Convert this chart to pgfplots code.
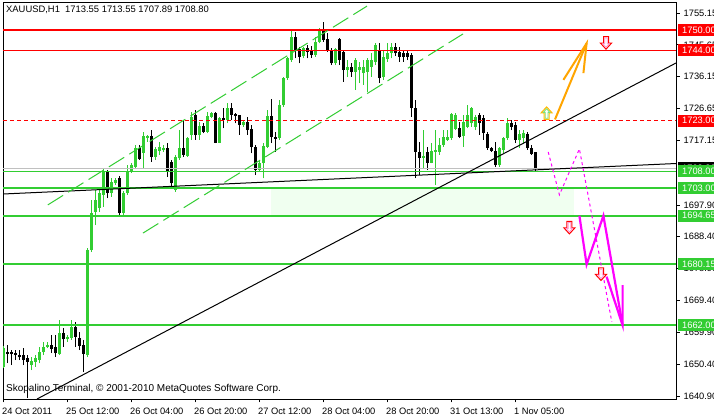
\documentclass[border=0pt]{standalone}
\usepackage{pgfplots}
\pgfplotsset{compat=1.18}
\usepackage{pgfplotstable}
\usepackage{fontspec}
\setmainfont{Liberation Sans}
\definecolor{mtgreen}{RGB}{50,205,50}
\definecolor{mtred}{RGB}{255,0,0}
\definecolor{mtorange}{RGB}{255,165,0}
\definecolor{mtgold}{RGB}{255,185,0}
\definecolor{mtmag}{RGB}{255,0,255}
\definecolor{mtpink}{RGB}{255,150,210}
\definecolor{mtlgreen}{RGB}{120,225,120}
\definecolor{mthoney}{RGB}{240,255,240}
\definecolor{mtgray}{RGB}{192,192,192}
\newcommand{\mtfont}{\fontsize{9.3bp}{11bp}\selectfont}

\pgfdeclareplotmark{mtup}{%
  \pgfpathmoveto{\pgfpoint{0bp}{6.5bp}}%
  \pgfpathlineto{\pgfpoint{5.5bp}{0.5bp}}%
  \pgfpathlineto{\pgfpoint{2.5bp}{0.5bp}}%
  \pgfpathlineto{\pgfpoint{2.5bp}{-6bp}}%
  \pgfpathlineto{\pgfpoint{-2.5bp}{-6bp}}%
  \pgfpathlineto{\pgfpoint{-2.5bp}{0.5bp}}%
  \pgfpathlineto{\pgfpoint{-5.5bp}{0.5bp}}%
  \pgfpathclose\pgfusepathqfillstroke}
\pgfdeclareplotmark{mtupin}{%
  \pgfpathmoveto{\pgfpoint{0bp}{4.6bp}}%
  \pgfpathlineto{\pgfpoint{3.4bp}{1bp}}%
  \pgfpathlineto{\pgfpoint{1.3bp}{1bp}}%
  \pgfpathlineto{\pgfpoint{1.3bp}{-4.8bp}}%
  \pgfpathlineto{\pgfpoint{-1.3bp}{-4.8bp}}%
  \pgfpathlineto{\pgfpoint{-1.3bp}{1bp}}%
  \pgfpathlineto{\pgfpoint{-3.4bp}{1bp}}%
  \pgfpathclose\pgfusepathqstroke}
\pgfdeclareplotmark{mtdown}{%
  \pgfpathmoveto{\pgfpoint{0bp}{-6.5bp}}%
  \pgfpathlineto{\pgfpoint{5.5bp}{-0.5bp}}%
  \pgfpathlineto{\pgfpoint{2.5bp}{-0.5bp}}%
  \pgfpathlineto{\pgfpoint{2.5bp}{6bp}}%
  \pgfpathlineto{\pgfpoint{-2.5bp}{6bp}}%
  \pgfpathlineto{\pgfpoint{-2.5bp}{-0.5bp}}%
  \pgfpathlineto{\pgfpoint{-5.5bp}{-0.5bp}}%
  \pgfpathclose\pgfusepathqfillstroke}
\pgfdeclareplotmark{mtdownin}{%
  \pgfpathmoveto{\pgfpoint{0bp}{-4.6bp}}%
  \pgfpathlineto{\pgfpoint{3.4bp}{-1bp}}%
  \pgfpathlineto{\pgfpoint{1.3bp}{-1bp}}%
  \pgfpathlineto{\pgfpoint{1.3bp}{4.8bp}}%
  \pgfpathlineto{\pgfpoint{-1.3bp}{4.8bp}}%
  \pgfpathlineto{\pgfpoint{-1.3bp}{-1bp}}%
  \pgfpathlineto{\pgfpoint{-3.4bp}{-1bp}}%
  \pgfpathclose\pgfusepathqstroke}

% bullish candles: index, open, high, low, close
\pgfplotstableread{
i O H L C
0 1649.6 1655.8 1649.2 1655.1
7 1650.1 1652.6 1648.6 1651.4
8 1651.1 1653.1 1649.6 1652.1
9 1651.6 1655.6 1650.6 1654.1
10 1653.9 1657.1 1653.1 1655.6
11 1655.4 1657.1 1655.1 1656.1
14 1653.4 1663.6 1653.1 1659.8
16 1657.8 1659.1 1657.1 1658.6
17 1658.3 1663.6 1657.6 1661.6
21 1653.1 1685.0 1652.5 1684.4
22 1684.4 1699.4 1683.8 1695.4
23 1695.8 1702.3 1691.9 1699.4
24 1697.0 1702.3 1695.8 1701.4
25 1700.9 1708.9 1697.3 1707.7
27 1701.4 1705.9 1700.3 1704.7
28 1704.4 1705.9 1703.8 1705.3
30 1695.5 1702.0 1694.9 1701.4
31 1701.4 1709.8 1700.9 1707.7
32 1707.7 1710.4 1707.4 1709.8
33 1709.3 1715.8 1708.9 1714.8
35 1713.5 1719.7 1708.8 1718.5
36 1717.8 1718.8 1716.8 1718.5
38 1712.3 1715.3 1711.3 1714.5
39 1714.1 1716.8 1712.8 1715.1
40 1714.4 1715.8 1713.7 1714.8
43 1702.3 1712.8 1701.8 1712.3
44 1711.8 1720.2 1711.3 1714.8
46 1712.5 1718.2 1712.3 1717.8
47 1718.8 1725.7 1717.3 1724.2
49 1718.8 1722.7 1717.3 1721.4
51 1719.7 1725.7 1719.2 1724.4
52 1724.2 1725.7 1723.7 1725.2
54 1716.5 1724.2 1716.3 1723.7
56 1723.2 1728.2 1722.2 1726.8
60 1721.7 1723.2 1721.2 1722.7
64 1708.3 1711.3 1707.8 1710.3
65 1710.3 1716.3 1705.8 1715.5
66 1715.3 1726.2 1714.8 1724.4
69 1717.8 1729.2 1717.3 1727.7
70 1727.7 1736.1 1727.2 1735.7
71 1735.8 1742.1 1735.2 1741.6
72 1741.1 1750.1 1740.6 1748.1
75 1742.3 1745.1 1741.6 1744.6
78 1742.6 1748.1 1742.1 1746.6
79 1746.6 1750.6 1746.1 1750.1
83 1740.1 1744.6 1739.6 1744.3
86 1738.1 1741.1 1736.1 1739.1
88 1737.6 1741.6 1732.2 1741.1
89 1738.1 1740.6 1734.2 1739.1
90 1737.2 1741.1 1733.7 1739.1
91 1737.6 1741.6 1731.7 1741.1
92 1739.1 1743.1 1736.1 1741.1
93 1740.6 1746.1 1739.6 1745.6
95 1736.1 1744.1 1735.2 1742.1
96 1741.3 1746.1 1740.6 1743.1
97 1743.1 1746.1 1741.6 1745.1
105 1711.9 1720.2 1708.8 1712.5
107 1710.4 1716.3 1710.3 1714.0
108 1713.8 1720.2 1703.8 1714.3
109 1713.8 1717.8 1712.8 1715.8
110 1715.8 1720.2 1715.3 1718.2
111 1717.4 1720.2 1717.0 1718.1
112 1717.8 1725.2 1717.4 1724.9
113 1720.5 1725.2 1720.2 1724.7
115 1718.5 1724.7 1715.3 1722.7
116 1721.2 1727.7 1720.7 1724.7
117 1722.2 1727.2 1721.2 1726.7
118 1721.2 1724.7 1720.2 1724.2
124 1709.8 1715.3 1709.3 1714.8
125 1714.3 1718.2 1713.3 1717.8
126 1717.8 1723.7 1717.3 1722.2
129 1717.3 1720.2 1714.8 1719.2
130 1717.8 1720.2 1716.3 1719.2
}\bull

% bearish candles
\pgfplotstableread{
i O H L C
1 1654.1 1656.1 1650.7 1653.4
2 1653.9 1654.6 1650.1 1653.3
3 1653.8 1654.6 1651.6 1653.1
4 1653.2 1654.6 1651.6 1652.4
5 1653.1 1655.2 1650.1 1651.6
6 1652.1 1653.1 1640.3 1651.1
12 1656.1 1659.1 1653.7 1654.9
13 1655.4 1659.1 1652.6 1653.6
15 1659.8 1661.1 1655.6 1657.8
18 1661.6 1663.0 1655.6 1658.6
19 1658.3 1660.1 1654.6 1655.8
20 1656.1 1657.6 1648.0 1653.4
26 1707.7 1708.3 1699.9 1701.4
29 1705.9 1706.5 1694.9 1695.5
34 1714.8 1715.8 1711.3 1711.5
37 1718.5 1720.2 1710.8 1712.3
41 1714.8 1716.3 1706.3 1707.8
42 1710.8 1711.3 1703.3 1704.3
45 1714.8 1723.2 1712.3 1712.8
48 1724.7 1726.2 1717.3 1718.8
50 1721.4 1722.2 1719.2 1719.7
53 1725.2 1725.7 1716.3 1716.5
55 1723.7 1726.8 1720.7 1723.2
57 1726.8 1728.2 1723.2 1724.7
58 1725.0 1725.2 1722.2 1724.4
59 1724.7 1724.7 1718.8 1721.7
61 1722.7 1724.2 1718.8 1720.2
62 1720.5 1721.7 1713.3 1715.1
63 1715.3 1715.8 1706.8 1708.3
67 1724.4 1729.5 1716.3 1718.1
68 1718.2 1719.7 1713.8 1717.6
73 1748.1 1749.6 1741.6 1744.1
74 1744.3 1745.1 1740.1 1742.1
76 1744.6 1745.6 1741.6 1743.6
77 1744.1 1745.3 1741.7 1742.6
80 1750.1 1752.6 1746.6 1747.1
81 1747.3 1749.1 1743.6 1744.1
82 1744.1 1744.6 1739.6 1740.1
84 1747.3 1747.6 1739.6 1741.1
85 1743.6 1744.1 1734.6 1738.1
87 1739.1 1740.1 1736.1 1737.6
94 1744.1 1746.1 1734.2 1735.7
98 1745.1 1746.3 1742.3 1743.1
99 1743.6 1745.1 1740.6 1742.1
100 1743.1 1744.1 1740.6 1742.1
101 1743.1 1744.1 1741.1 1742.1
102 1742.6 1743.1 1724.2 1726.8
103 1726.8 1729.2 1705.9 1713.7
104 1713.7 1716.8 1706.8 1711.9
106 1713.7 1715.3 1708.3 1710.4
114 1720.7 1722.7 1717.8 1718.2
119 1724.7 1725.2 1718.8 1722.4
120 1723.7 1724.7 1717.3 1719.4
121 1719.2 1719.7 1714.3 1714.8
122 1714.8 1715.3 1713.7 1714.1
123 1714.1 1716.8 1709.3 1709.8
127 1722.4 1723.2 1720.2 1721.2
128 1721.7 1722.7 1716.3 1717.3
131 1719.2 1719.7 1714.3 1714.8
132 1714.8 1715.8 1712.8 1713.1
133 1713.55 1713.55 1707.89 1708.80
}\bear

\begin{document}
\begin{tikzpicture}
\path[use as bounding box, fill=white] (0,0) rectangle (714bp,416bp);
\begin{axis}[
  at={(3bp,17bp)}, anchor=south west,
  scale only axis, width=673bp, height=396bp,
  xmin=-0.1, xmax=168.15, ymin=1640.0, ymax=1758.13,
  axis line style={black, line width=1bp},
  clip mode=individual,
  xtick={0,16,32,48,64,80,96,112,128},
  xticklabels={24 Oct 2011,25 Oct 12:00,26 Oct 04:00,26 Oct 20:00,27 Oct 12:00,28 Oct 04:00,28 Oct 20:00,31 Oct 13:00,1 Nov 05:00},
  ytick={1755.15,1745.65,1736.15,1726.65,1717.15,1697.90,1688.40,1678.90,1669.40,1659.90,1650.40,1640.90},
  yticklabels={1755.15,1745.65,1736.15,1726.65,1717.15,1697.90,1688.40,1678.90,1669.40,1659.90,1650.40,1640.90},
  xtick pos=left, ytick pos=right, yticklabel pos=right,
  tick align=outside, major tick length=3.5bp,
  tick style={black, line width=0.8bp},
  xticklabel style={anchor=north west, inner sep=0pt, xshift=-1.5bp, yshift=-5bp, font=\mtfont},
  yticklabel style={anchor=west, inner sep=0pt, xshift=4bp, font=\mtfont},
]
% background zone
\addplot[fill=mthoney, draw=none, forget plot] coordinates {(66.9,1694.65) (142.65,1694.65) (142.65,1703) (66.9,1703)} -- cycle;

% wicks
\addplot[draw=none, mark=none, forget plot, error bars/.cd, y dir=plus, y explicit, error mark=none,
  error bar style={draw=mtgreen, line width=1bp, solid}]
  table[x=i, y=L, y error plus expr={\thisrow{H}-\thisrow{L}}] {\bull};
\addplot[draw=none, mark=none, forget plot, error bars/.cd, y dir=plus, y explicit, error mark=none,
  error bar style={draw=black, line width=1bp, solid}]
  table[x=i, y=L, y error plus expr={\thisrow{H}-\thisrow{L}}] {\bear};
% bodies
\addplot[draw=none, mark=none, forget plot, error bars/.cd, y dir=plus, y explicit, error mark=none,
  error bar style={draw=mtgreen, line width=3bp, line cap=butt, solid}]
  table[x=i, y=O, y error plus expr={max(\thisrow{C}-\thisrow{O},0.3)}] {\bull};
\addplot[draw=none, mark=none, forget plot, error bars/.cd, y dir=plus, y explicit, error mark=none,
  error bar style={draw=black, line width=3bp, line cap=butt, solid}]
  table[x=i, y=C, y error plus expr={max(\thisrow{O}-\thisrow{C},0.3)}] {\bear};

% horizontal levels
\addplot[mtred, line width=2bp] coordinates {(-0.1,1750) (168.15,1750)};
\addplot[mtred, line width=1bp] coordinates {(-0.1,1744) (168.15,1744)};
\addplot[mtred, line width=1bp, dash pattern=on 4bp off 3bp] coordinates {(-0.1,1723) (168.15,1723)};
\addplot[mtgray, line width=1bp] coordinates {(-0.1,1708.8) (168.15,1708.8)};
\addplot[mtgreen, line width=1bp] coordinates {(-0.1,1708) (168.15,1708)};
\addplot[mtgreen, line width=2bp] coordinates {(-0.1,1703) (168.15,1703)};
\addplot[mtgreen, line width=2bp] coordinates {(-0.1,1694.65) (168.15,1694.65)};
\addplot[mtgreen, line width=2bp] coordinates {(-0.1,1680.15) (168.15,1680.15)};
\addplot[mtgreen, line width=2bp] coordinates {(-0.1,1662) (168.15,1662)};

% trend lines
\addplot[black, line width=1bp] coordinates {(-0.1,1701.15) (168.15,1710.25)};
\addplot[black, line width=1bp] coordinates {(8.4,1640.0) (168.15,1740.23)};
% channel
\addplot[mtgreen, line width=1bp, dash pattern=on 18bp off 6bp] coordinates {(11.1,1697.9) (90.9,1757.2)};
\addplot[mtgreen, line width=1bp, dash pattern=on 18bp off 6bp] coordinates {(34.9,1689.5) (114.9,1748.9)};

% orange projection
\addplot[mtorange, line width=2bp] coordinates {(137.9,1723.4) (145.8,1746.1)};
\addplot[mtorange, line width=2bp] coordinates {(140.0,1735.2) (145.8,1746.1) (145.0,1737.2)};

% magenta projections
\addplot[mtmag, line width=1bp, dash pattern=on 3bp off 3bp] coordinates {(136.2,1713.7) (139.0,1700.9) (144.0,1714.6) (152.1,1663.0)};
\addplot[mtmag, line width=2.2bp] coordinates {(144.0,1694.65) (145.8,1680.15) (150.0,1694.65) (154.8,1662.0)};
\addplot[mtmag, line width=2.2bp] coordinates {(150.8,1676.5) (154.8,1662.0) (154.8,1674.0)};

% arrow icons
\addplot[only marks, mark=mtup, mark options={draw=mtgold, fill=white, line width=1bp}] coordinates {(135.8,1725.2)};
\addplot[only marks, mark=mtupin, mark options={draw=mtlgreen, line width=0.8bp}] coordinates {(135.8,1725.2)};
\addplot[only marks, mark=mtdown, mark options={draw=mtred, fill=white, line width=1bp}] coordinates {(150.65,1746.3) (141.5,1691.2) (149.4,1677.3)};
\addplot[only marks, mark=mtdownin, mark options={draw=mtpink, line width=0.8bp}] coordinates {(150.65,1746.3) (141.5,1691.2) (149.4,1677.3)};

\coordinate (L1750) at (axis cs:168.15,1750);
\coordinate (L1744) at (axis cs:168.15,1744);
\coordinate (L1723) at (axis cs:168.15,1723);
\coordinate (L1708b) at (axis cs:168.15,1708.8);
\coordinate (L1708) at (axis cs:168.15,1708);
\coordinate (L1703) at (axis cs:168.15,1703);
\coordinate (L1694) at (axis cs:168.15,1694.65);
\coordinate (L1680) at (axis cs:168.15,1680.15);
\coordinate (L1662) at (axis cs:168.15,1662);
\end{axis}
\tikzset{lab/.style={anchor=west, xshift=1.5bp, inner xsep=4.5bp, inner ysep=0pt, minimum height=12bp, text=white, font=\mtfont}}
\node[lab, fill=mtred] at (L1750) {1750.00};
\node[lab, fill=mtred] at (L1744) {1744.00};
\node[lab, fill=mtred] at (L1723) {1723.00};
\node[lab, fill=black] at (L1708b) {1708.80};
\node[lab, fill=mtgreen] at (L1708) {1708.00};
\node[lab, fill=mtgreen] at (L1703) {1703.00};
\node[lab, fill=mtgreen] at (L1694) {1694.65};
\node[lab, fill=mtgreen] at (L1680) {1680.15};
\node[lab, fill=mtgreen] at (L1662) {1662.00};
\node[anchor=west, inner sep=0pt, font=\fontsize{9.4bp}{11bp}\selectfont] at (6bp,406bp) {XAUUSD,H1\ \ 1713.55 1713.55 1707.89 1708.80};
\node[anchor=west, inner sep=0pt, font=\fontsize{10bp}{12bp}\selectfont] at (6bp,27bp) {Skopalino Terminal, © 2001-2010 MetaQuotes Software Corp.};
\end{tikzpicture}
\end{document}
